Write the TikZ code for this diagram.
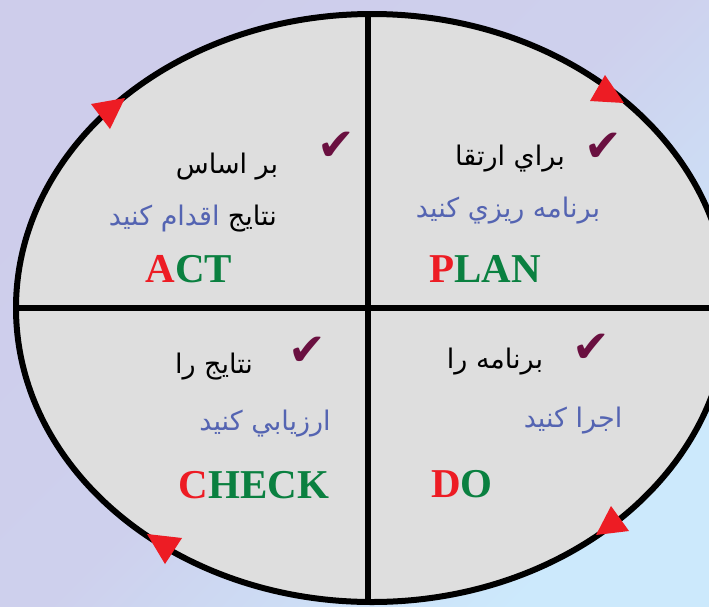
\documentclass[tikz,border=0pt]{standalone}
\usepackage{fontspec}
\setmainfont{Liberation Serif}
\newfontfamily\arabicfont[Script=Arabic]{DejaVu Sans}
\newfontfamily\symfont{DejaVu Sans}
\TeXXeTstate=1
\definecolor{lav}{HTML}{CECDEB}
\definecolor{lblue}{HTML}{CCE9FC}
\definecolor{cellgray}{HTML}{DEDEDE}
\definecolor{arblue}{HTML}{5464B2}
\definecolor{tred}{HTML}{ED1C24}
\definecolor{tgreen}{HTML}{0A8040}
\definecolor{maroon}{HTML}{6A1040}
\tikzset{
  ar/.style={inner sep=0pt, anchor=base, font=\arabicfont\fontsize{27}{31}\selectfont},
  arb/.style={ar, text=arblue},
  lat/.style={inner sep=0pt, anchor=base, font=\bfseries\fontsize{41}{45}\selectfont},
  chk/.style={inner sep=0pt, text=maroon, font=\symfont\fontsize{45}{49}\selectfont},
  tri/.style={fill=tred},
}
\begin{document}
\begin{tikzpicture}[x=1pt,y=-1pt]
\useasboundingbox (0,0) rectangle (709,606);
\shade[top color=lav, bottom color=lblue, middle color=lav!88!lblue, shading angle=45] (0,0) rectangle (709,606);
\fill[cellgray] (372,308) ellipse [x radius=356, y radius=294];
\begin{scope}
  \clip (372,308) ellipse [x radius=356, y radius=294];
  \draw[line width=6pt] (368,0) -- (368,606);
  \draw[line width=6pt] (0,308) -- (709,308);
\end{scope}
\draw[line width=6pt] (372,308) ellipse [x radius=356, y radius=294];
% arrowheads
\fill[tri] (605,75) -- (590,101) -- (624,103) -- cycle;
\fill[tri] (91,104) -- (125,98) -- (110,129) -- cycle;
\fill[tri] (147,534) -- (182,538) -- (165,564) -- cycle;
\fill[tri] (611,506) -- (596,535) -- (629,531) -- cycle;
% PLAN
\node[chk] (pc) at (603,147) {✔};
\node[ar] (p1) at (510,165) {\beginR براي ارتقا\endR};
\node[arb] (p2) at (508,217) {\beginR برنامه ريزي كنيد\endR};
\node[lat] (p3) at (485,282) {\textcolor{tred}{P}\textcolor{tgreen}{LAN}};
% ACT
\node[chk] (ac) at (336,146) {✔};
\node[ar] (a1) at (227,173) {\beginR بر اساس\endR};
\node[ar, anchor=base east] (a2) at (277,225) {\beginR نتايج\endR};
\node[arb, anchor=base east] (a2b) at ([xshift=-8pt]a2.base west) {\beginR اقدام كنيد\endR};
\node[lat] (a3) at (189,282) {\textcolor{tred}{A}\textcolor{tgreen}{CT}};
% CHECK
\node[chk] (cc) at (307,351) {✔};
\node[ar] (c1) at (214,373) {\beginR نتايج را\endR};
\node[arb] (c2) at (265,430) {\beginR ارزيابي كنيد\endR};
\node[lat] (c3) at (254,498) {\textcolor{tred}{C}\textcolor{tgreen}{HECK}};
% DO
\node[chk] (dc) at (591,348) {✔};
\node[ar] (d1) at (495,368) {\beginR برنامه را\endR};
\node[arb] (d2) at (573,427) {\beginR اجرا كنيد\endR};
\node[lat] (d3) at (462,497) {\textcolor{tred}{D}\textcolor{tgreen}{O}};
\end{tikzpicture}
\end{document}
